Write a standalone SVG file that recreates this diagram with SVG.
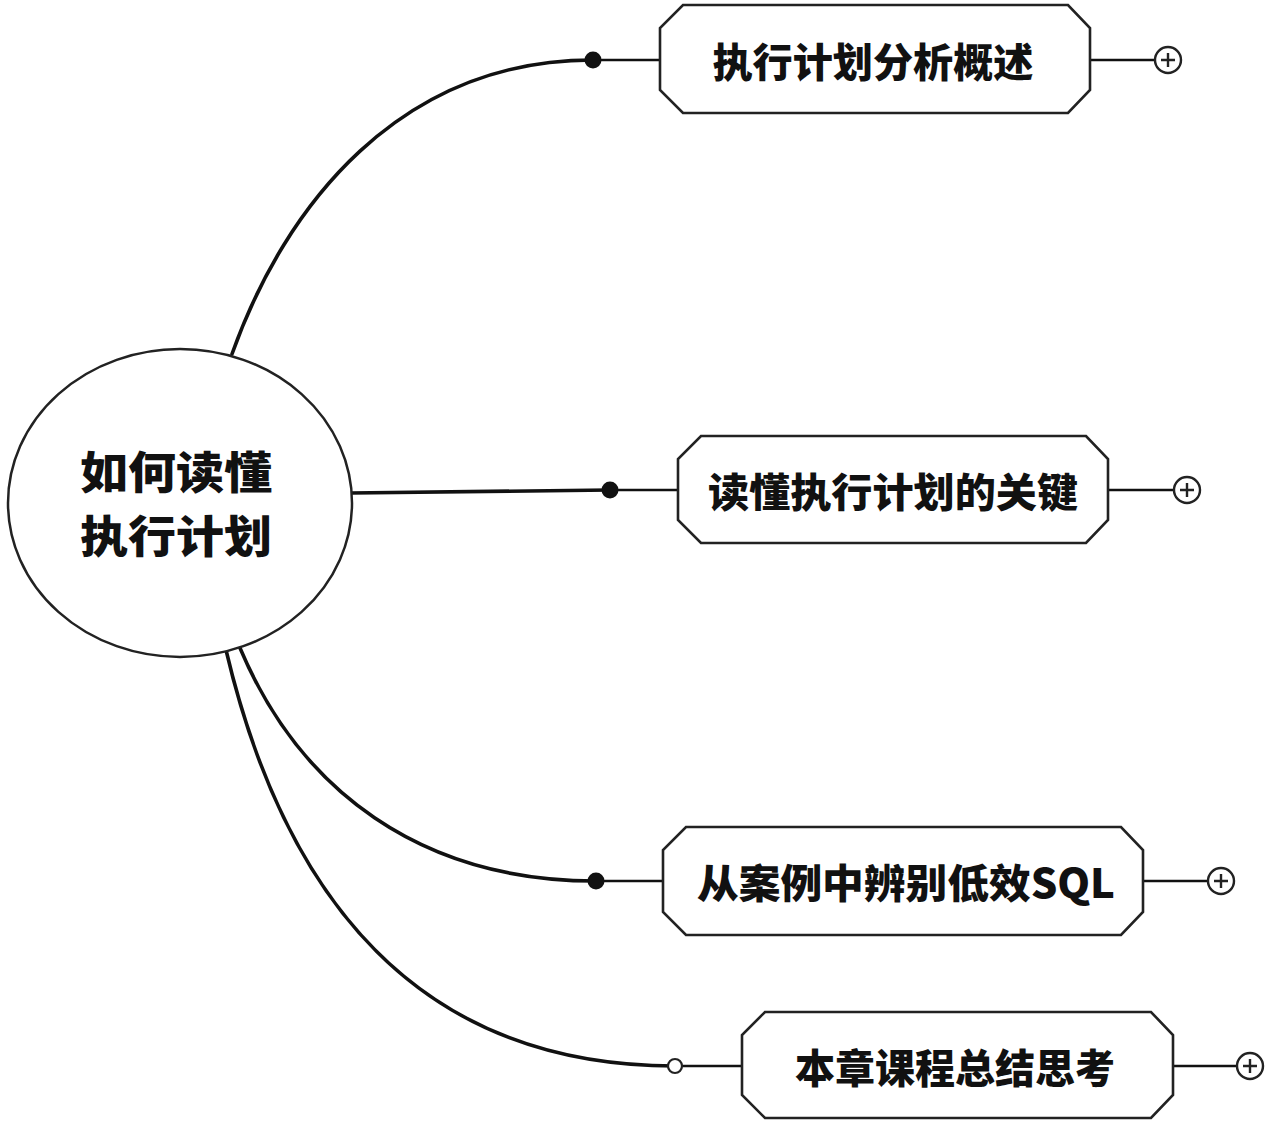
<svg xmlns="http://www.w3.org/2000/svg" width="1280" height="1132" viewBox="0 0 1280 1132">
<style>
.conn{fill:none;stroke:#111;stroke-width:3.6;stroke-linecap:round}
.stub{fill:none;stroke:#111;stroke-width:2.6}
.box{fill:#fff;stroke:#222;stroke-width:2.6}
.lbl{font-family:"Noto Sans CJK SC","Noto Sans",sans-serif;font-weight:900;fill:#111;text-anchor:middle;dominant-baseline:central}
.plus{fill:#fff;stroke:#222;stroke-width:2.4}
.pl{stroke:#222;stroke-width:2.4}
</style>
<defs>
<g id="plus"><circle class="plus" r="13"/><path class="pl" d="M-7,0H7M0,-7V7"/></g>
</defs>
<rect width="1280" height="1132" fill="#fff"/>
<g id="connectors">
<path class="conn" d="M232,354 C285,205 400,60 593,60"/>
<path class="conn" d="M351,493 L610,490"/>
<path class="conn" d="M240,648 C300,790 420,881 596,881"/>
<path class="conn" d="M226,650 C285,900 420,1066 675,1066"/>
<path class="stub" d="M593,60H660M1090,60H1155"/>
<path class="stub" d="M610,490H678M1108,490H1174"/>
<path class="stub" d="M596,881H663M1143,881H1208"/>
<path class="stub" d="M675,1066H742M1173,1066H1237"/>
<circle cx="593" cy="60" r="8.5" fill="#111"/>
<circle cx="610" cy="490" r="8.5" fill="#111"/>
<circle cx="596" cy="881" r="8.5" fill="#111"/>
<circle cx="675" cy="1066" r="7" fill="#fff" stroke="#222" stroke-width="2.2"/>
</g>
<g id="root">
<ellipse cx="180" cy="503" rx="172" ry="154" fill="#fff" stroke="#222" stroke-width="2.5"/>
<text class="lbl" x="176" y="470" font-size="44" textLength="192" lengthAdjust="spacingAndGlyphs">如何读懂</text>
<text class="lbl" x="176" y="534" font-size="44" textLength="192" lengthAdjust="spacingAndGlyphs">执行计划</text>
</g>
<g id="n1">
<path class="box" d="M683,5H1068L1090,28V90L1068,113H683L660,90V28Z"/>
<text class="lbl" x="873" y="60" font-size="40" textLength="321" lengthAdjust="spacingAndGlyphs">执行计划分析概述</text>
<use href="#plus" x="1168" y="60"/>
</g>
<g id="n2">
<path class="box" d="M701,436H1086L1108,459V520L1086,543H701L678,520V459Z"/>
<text class="lbl" x="893" y="490" font-size="40" textLength="370" lengthAdjust="spacingAndGlyphs">读懂执行计划的关键</text>
<use href="#plus" x="1187" y="490"/>
</g>
<g id="n3">
<path class="box" d="M686,827H1121L1143,850V912L1121,935H686L663,912V850Z"/>
<text class="lbl" x="906" y="881" font-size="40" textLength="418" lengthAdjust="spacingAndGlyphs">从案例中辨别低效SQL</text>
<use href="#plus" x="1221" y="881"/>
</g>
<g id="n4">
<path class="box" d="M765,1012H1151L1173,1035V1095L1151,1118H765L742,1095V1035Z"/>
<text class="lbl" x="955" y="1066" font-size="40" textLength="320" lengthAdjust="spacingAndGlyphs">本章课程总结思考</text>
<use href="#plus" x="1250" y="1066"/>
</g>
</svg>
